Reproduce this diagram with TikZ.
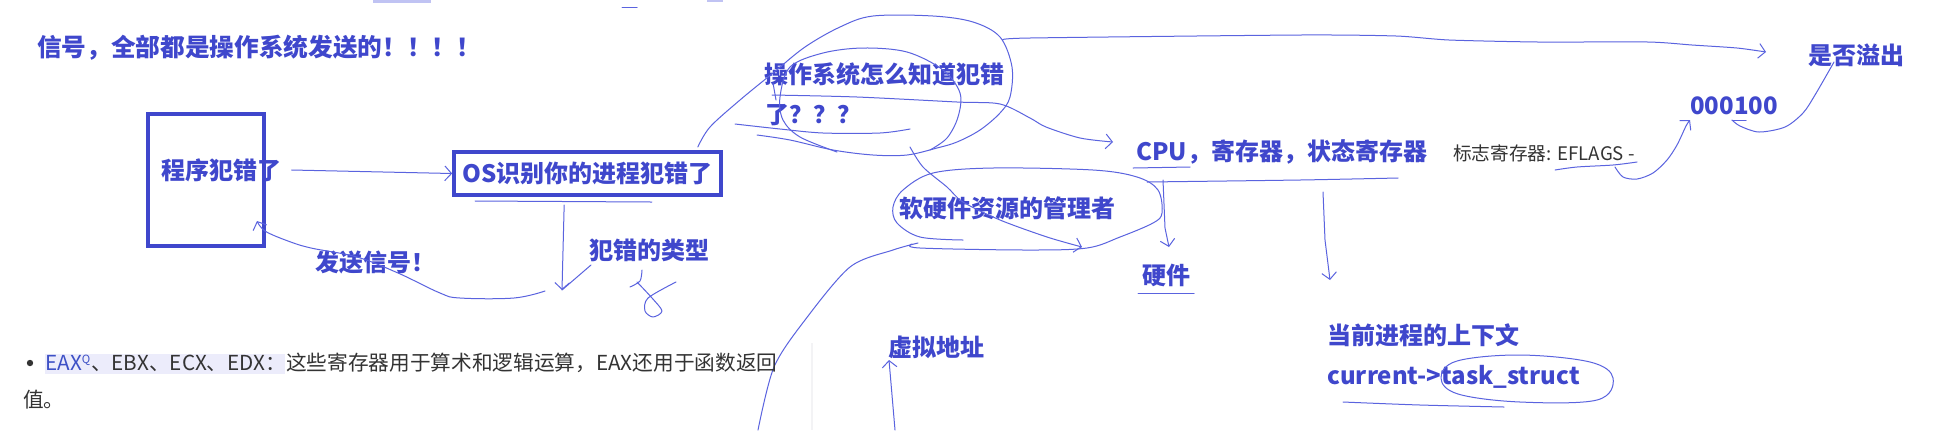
\documentclass[tikz,border=0pt]{standalone}
\usepackage{fontspec}
\setmainfont{Noto Sans CJK SC}
\usetikzlibrary{arrows.meta,positioning}
\definecolor{Ink}{HTML}{3F47CC}
\definecolor{Pen}{HTML}{5A63DF}
\definecolor{Grey}{HTML}{333333}
\definecolor{Link}{HTML}{3D50C6}
\definecolor{Mark}{HTML}{ECECFB}
\definecolor{Rule}{HTML}{F3F3F5}

\begin{document}
\begin{tikzpicture}[
    x=0.75pt, y=-0.75pt,
    hand/.style={
        font=\bfseries\fontsize{18}{20}\selectfont,
        text=Ink,
        anchor=west,
        inner sep=0pt
    },
    note/.style={
        font=\fontsize{14}{16}\selectfont,
        text=Grey,
        anchor=west,
        inner sep=0pt
    },
    body/.style={
        font=\fontsize{15.5}{18}\selectfont,
        text=Grey,
        anchor=west,
        inner sep=0pt
    },
    frame/.style={
        draw=Ink,
        line width=3pt
    },
    pen/.style={
        draw=Pen,
        line width=0.75pt,
        line cap=round,
        line join=round
    },
    arrow/.style={
        pen,
        -{Straight Barb[length=5pt,width=11pt]}
    }
]

% Canvas
\fill[white] (0,0) rectangle (1944,430);
\useasboundingbox (0,0) rectangle (1944,430);

% Cut-off bits at the top edge
\fill[Mark!70!Pen] (373,0) rectangle (431,2.5);
\fill[Mark!70!Pen] (707,0) rectangle (723,2);
\draw[pen] (622,7) -- (637,7);

% Title
\node[hand, font=\bfseries\fontsize{18.5}{20}\selectfont] (title) at (37,48) {信号，全部都是操作系统发送的！！！！};

% Program box
\node[frame, minimum width=87pt, minimum height=99pt, inner sep=0pt] (progbox) at (206,180) {};
\node[hand] (prog) at (161,170) {程序犯错了};

% OS box
\node[frame, hand, anchor=center, minimum width=200pt, minimum height=32.25pt] (os) at (587.5,173.5)
{OS识别你的进程犯错了};

\draw[arrow] ([xshift=7.5pt]prog.east) -- (os.west);
\draw[pen] ([shift={(23,4)}]os.south west) -- ([shift={(-71,5)}]os.south east);

% Error type and the signal going back
\node[hand] (kind) at (589,250) {犯错的类型};
\node[hand] (sig) at (315,262) {发送信号！};

\coordinate (down) at (562,290);
\draw[arrow] ([shift={(112,8)}]os.south west) -- (down);
\draw[pen] (down) -- (591,265);
\draw[arrow] plot[smooth, tension=0.6] coordinates {(545,291) (514,298) (460,298) (440,293) (398,273)
    (357,257) (311,248) (288,241) (265,231) (257,221)};

% Squiggle under the error type
\draw[pen] plot[smooth] coordinates {(642,270) (640,281) (630,287)};
\draw[pen] plot[smooth] coordinates {(637,282) (652,298) (662,311) (653,317) (645,311) (648,298) (676,282)};

% How does the OS know
\node[hand] (ask) at (764,74) {操作系统怎么知道犯错};
\node[hand] (ask2) at (765,115) {了？？？};

\draw[pen] plot[smooth, tension=0.55] coordinates {([shift={(-25,-3)}]os.north east) (710,127) (740,100) (773,73)
    (805,47) (840,27) (873,16) (933,16) (973,22) (1000,37) (1012,67) (1010,97) (1000,113) (980,130)
    (957,142) (937,148) (907,155) (873,155) (833,150) (790,140) (757,135)};
\draw[pen] plot[smooth, tension=0.55] coordinates {(837,152) (800,137) (783,120) (780,97) (790,67)
    (823,53) (863,48) (907,52) (943,70) (960,93) (958,117) (947,138) (930,150)};
\draw[pen] plot[smooth, tension=0.5] coordinates {(735,124) (780,129) (823,133) (880,133) (910,129)};
\draw[pen] (773,83) -- (776,100);

% Hardware and software manager
\node[hand] (mgr) at (899,208) {软硬件资源的管理者};
\node[hand] (cpu) at (1136,152) {CPU，寄存器，状态寄存器};
\node[note] (flags) at (1453,153) {标志寄存器: EFLAGS -};

\draw[arrow] plot[smooth, tension=0.5] coordinates {(772,95) (857,97) (957,102) (1000,104) (1030,118)
    (1046,127) (1080,138) (1113,142)};

\draw[pen] plot[smooth, tension=0.55] coordinates {(963,240) (920,237) (897,223) (893,207) (903,190)
    (933,173) (993,168) (1093,170) (1137,177) (1158,190) (1162,213) (1153,223) (1120,237) (1087,248)
    (1027,250) (920,248) (912,244)};
\draw[arrow] plot[smooth, tension=0.5] coordinates {(910,147) (923,167) (947,187) (963,202) (1000,220)
    (1047,237) (1082,247)};
\draw[pen] plot[smooth, tension=0.5] coordinates {(758,430) (774,367) (805,320) (850,267) (893,250) (918,243)};

% Overflow flag
\node[hand] (ovf) at (1808,55) {是否溢出};
\node[hand] (bits) at (1690,106) {000100};

\draw[arrow] plot[smooth, tension=0.4] coordinates {(1003,40) (1030,38) (1300,35) (1396,36) (1449,40)
    (1538,42) (1648,42) (1692,45) (1737,48) (1766,52)};

\draw[pen] (1133,168) -- (1190,167);
\draw[pen] plot[smooth, tension=0.4] coordinates {(1147,182) (1300,180) (1398,178)};

\draw[pen] plot[smooth, tension=0.5] coordinates {(1555,170) (1577,167) (1613,165) (1637,162)};
\draw[arrow] plot[smooth, tension=0.5] coordinates {(1615,167) (1623,177) (1637,179) (1653,173)
    (1667,160) (1677,145) (1686,126) (1690,120)};
\draw[pen] (1732,120) -- (1746,120);
\draw[pen] plot[smooth, tension=0.5] coordinates {(1834,62) (1815,95) (1803,113) (1785,127)
    (1759,132) (1740,126) (1732,120)};

% Hardware
\node[hand] (hw) at (1142,275) {硬件};
\draw[arrow] (1163,180) -- (1165,228) -- (1169,247);
\draw[pen] (1138,293) -- (1194,293);

% Current process context
\node[hand] (ctx) at (1327,335) {当前进程的上下文};
\node[hand] (cur) at (1327,377) {current->task\_struct};
\draw[arrow] (1323,192) -- (1325,240) -- (1330,280);
\draw[pen] plot[smooth cycle, tension=0.6] coordinates {(1441,378) (1457,361) (1520,355) (1590,362)
    (1613,378) (1597,400) (1520,402) (1458,394)};
\draw[pen] plot[smooth, tension=0.5] coordinates {(1343,402) (1420,405) (1504,407)};

% Virtual address
\node[hand] (virt) at (888,347) {虚拟地址};
\draw[arrow] (895,430) -- (889,360);

% Page text underneath
\fill[Mark] (45,354) rectangle (285,374);
\fill[Grey] (30,363) circle (2.4pt);
\node[body] (eax) at (45,363)
{\textcolor{Link}{EAX\textsuperscript{\fontsize{8.5}{8}\selectfont Q}}、EBX、ECX、EDX：这些寄存器用于算术和逻辑运算，EAX还用于函数返回};
\node[body] (val) at (23,400) {值。};
\draw[Rule, line width=2pt] (812,343) -- (812,430);

\end{tikzpicture}
\end{document}
